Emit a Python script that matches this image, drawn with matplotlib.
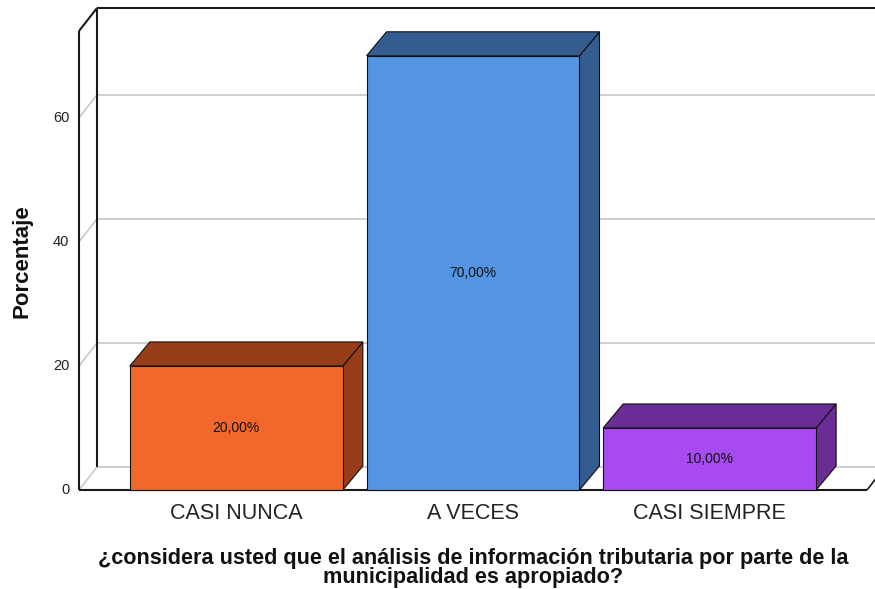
import matplotlib
matplotlib.use('Agg')
import matplotlib.pyplot as plt
from matplotlib.patches import Polygon, Rectangle

plt.rcParams['font.family'] = ['Liberation Sans', 'DejaVu Sans']

categorias = ['CASI NUNCA', 'A VECES', 'CASI SIEMPRE']
porcentajes = [20.0, 70.0, 10.0]
etiquetas = ['20,00%', '70,00%', '10,00%']
ticks_y = [0, 20, 40, 60]

colores_frente = ['#F2682B', '#5395E3', '#A74BF1']
colores_sombra = ['#973D1A', '#345C8F', '#6A2D96']

W, H = 875, 589
fig = plt.figure(figsize=(W / 100, H / 100), dpi=100)
# plano frontal del cubo en pixeles: x 79..867, y 31..490 (desde arriba)
ax = fig.add_axes([79 / W, (H - 490) / H, 788 / W, 459 / H])
x0, x1 = -0.665, 2.665
y0, y1 = 0, 74
ax.set_xlim(x0, x1)
ax.set_ylim(y0, y1)
ax.axis('off')

px_x = 788 / (x1 - x0)
px_y = 459 / (y1 - y0)


def prof(dx_px, dy_px):
    return dx_px / px_x, dy_px / px_y


# profundidad de las paredes y de las barras
wdx, wdy = prof(18, 23)
bdx, bdy = prof(20, 24)
xfin = x1 + 40 / px_x

gris = '#C8C8C8'
kw = dict(clip_on=False, solid_capstyle='butt')

# lineas de cuadricula en la pared del fondo y en la pared izquierda
for t in ticks_y:
    ax.plot([x0 + wdx, xfin], [t + wdy, t + wdy], color=gris, lw=1.2, zorder=1, **kw)
    ax.plot([x0, x0 + wdx], [t, t + wdy], color=gris, lw=1.2, zorder=1, **kw)
    ax.annotate(str(t), (x0, t), xytext=(-7, 0), textcoords='offset points',
                ha='right', va='center', fontsize=10.5, color='#222222',
                annotation_clip=False)

# marco del cubo
negro = '#1a1a1a'
ax.plot([x0, x0], [y0, y1], color=negro, lw=1.5, zorder=2, **kw)
ax.plot([x0, x0 + wdx], [y1, y1 + wdy], color=negro, lw=1.5, zorder=2, **kw)
ax.plot([x0 + wdx, xfin], [y1 + wdy, y1 + wdy], color=negro, lw=1.5, zorder=2, **kw)
ax.plot([x0 + wdx, x0 + wdx], [wdy, y1 + wdy], color=negro, lw=1.5, zorder=2, **kw)
ax.plot([x0, x1], [0, 0], color=negro, lw=1.5, zorder=2, **kw)
ax.plot([x1, x1 + wdx], [0, wdy], color=negro, lw=1.2, zorder=2, **kw)

# barras 3D
ancho = 0.9
for i, (v, cf, cs) in enumerate(zip(porcentajes, colores_frente, colores_sombra)):
    l, r = i - ancho / 2, i + ancho / 2
    lado = Polygon([(r, 0), (r + bdx, bdy), (r + bdx, v + bdy), (r, v)],
                   closed=True, fc=cs, ec='#111111', lw=0.8, zorder=3, clip_on=False)
    tapa = Polygon([(l, v), (r, v), (r + bdx, v + bdy), (l + bdx, v + bdy)],
                   closed=True, fc=cs, ec='#111111', lw=0.8, zorder=3, clip_on=False)
    frente = Rectangle((l, 0), ancho, v, fc=cf, ec='#111111', lw=0.8, zorder=4,
                       clip_on=False)
    ax.add_patch(lado)
    ax.add_patch(tapa)
    ax.add_patch(frente)
    ax.text(i, v / 2, etiquetas[i], ha='center', va='center', fontsize=10,
            color='#111111', zorder=5)
    ax.annotate(categorias[i], (i, 0), xytext=(0, -17), textcoords='offset points',
                ha='center', va='center', fontsize=15.5, color='#222222',
                annotation_clip=False)

fig.text(22 / W, 1 - 261 / H, 'Porcentaje', rotation=90, ha='center', va='center',
         fontsize=16, fontweight='bold', color='#111111')
fig.text(473 / W, 1 - 568 / H,
         '¿considera usted que el análisis de información tributaria por parte de la\n'
         'municipalidad es apropiado?',
         ha='center', va='center', fontsize=15.6, fontweight='bold', color='#111111',
         linespacing=0.92)

fig.savefig('out.png', dpi=100)
